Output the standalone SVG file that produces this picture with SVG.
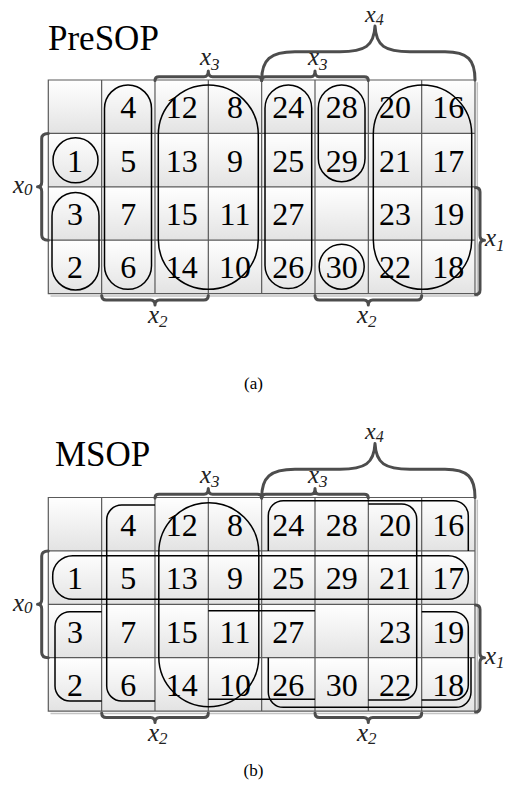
<svg xmlns="http://www.w3.org/2000/svg" width="507" height="798" viewBox="0 0 507 798">
<style>
.grid{fill:none;stroke:#5a5a5a;stroke-width:1.2}
.shadow{fill:none;stroke:#c4c4c4;stroke-width:1.5}
.loop{fill:none;stroke:#000;stroke-width:1.5}
.brace{fill:none;stroke:#4d4d4d;stroke-width:3;stroke-linecap:round;stroke-linejoin:round}
</style>
<defs>
<linearGradient id="cellgrad" x1="0" y1="0" x2="0" y2="1">
<stop offset="0" stop-color="#ffffff"/>
<stop offset="1" stop-color="#e3e3e3"/>
</linearGradient>
<pattern id="cellpat" patternUnits="userSpaceOnUse" x="48.3" y="80" width="53.34" height="53.4">
<rect width="53.34" height="53.4" fill="url(#cellgrad)"/>
</pattern>
</defs>

<!-- ===== (a) PreSOP ===== -->
<g id="map-a">
<text id="a-title" x="48" y="50" font-family="Liberation Serif, serif" font-size="35" fill="#000">PreSOP</text>
<g id="a-grid">
<rect x="48.3" y="80" width="426.7" height="213.6" fill="url(#cellpat)"/>
<path class="shadow" d="M50.5,295.9 H477.3 V82.3"/>
<path class="grid" d="M48.3,80 H475 V293.6 H48.3 Z M101.64,80 V293.6 M154.98,80 V293.6 M208.32,80 V293.6 M261.66,80 V293.6 M315,80 V293.6 M368.34,80 V293.6 M421.68,80 V293.6 M48.3,133.4 H475 M48.3,186.8 H475 M48.3,240.2 H475"/>
</g>
<g id="a-cells" font-family="Liberation Serif, serif" font-size="32" fill="#000" text-anchor="middle">
<text x="128.31" y="118.2">4</text>
<text x="181.65" y="118.2">12</text>
<text x="234.99" y="118.2">8</text>
<text x="288.33" y="118.2">24</text>
<text x="341.67" y="118.2">28</text>
<text x="395.01" y="118.2">20</text>
<text x="448.35" y="118.2">16</text>
<text x="74.97" y="171.6">1</text>
<text x="128.31" y="171.6">5</text>
<text x="181.65" y="171.6">13</text>
<text x="234.99" y="171.6">9</text>
<text x="288.33" y="171.6">25</text>
<text x="341.67" y="171.6">29</text>
<text x="395.01" y="171.6">21</text>
<text x="448.35" y="171.6">17</text>
<text x="74.97" y="225">3</text>
<text x="128.31" y="225">7</text>
<text x="181.65" y="225">15</text>
<text x="234.99" y="225">11</text>
<text x="288.33" y="225">27</text>
<text x="395.01" y="225">23</text>
<text x="448.35" y="225">19</text>
<text x="74.97" y="278.4">2</text>
<text x="128.31" y="278.4">6</text>
<text x="181.65" y="278.4">14</text>
<text x="234.99" y="278.4">10</text>
<text x="288.33" y="278.4">26</text>
<text x="341.67" y="278.4">30</text>
<text x="395.01" y="278.4">22</text>
<text x="448.35" y="278.4">18</text>
</g>
<g id="a-loops">
<circle id="a-l1" class="loop" cx="75.5" cy="160.3" r="22.5"/>
<rect id="a-l2" class="loop" x="52" y="192.5" width="47" height="97.5" rx="23.5"/>
<rect id="a-l3" class="loop" x="104.5" y="85" width="47" height="204.3" rx="23.5"/>
<rect id="a-l4" class="loop" x="158.3" y="85" width="100" height="204.3" rx="50"/>
<rect id="a-l5" class="loop" x="265" y="85" width="46.7" height="203.5" rx="23.3"/>
<rect id="a-l6" class="loop" x="318.3" y="85" width="46.7" height="96.7" rx="23.3"/>
<circle id="a-l7" class="loop" cx="341.7" cy="266.7" r="22.5"/>
<rect id="a-l8" class="loop" x="373.3" y="85" width="98.4" height="204.3" rx="49.2"/>
</g>
<g id="a-braces">
<path class="brace" d="M155,80.5 Q155,76.7 159,76.7 H204 Q208.3,76.7 208.3,71 Q208.3,76.7 212.6,76.7 H257.4 Q261.7,76.7 261.7,80.5"/>
<path class="brace" d="M261.7,80.5 Q261.7,76.7 265.7,76.7 H311 Q315,76.7 315,71 Q315,76.7 319,76.7 H364.3 Q368.3,76.7 368.3,80.5"/>
<path class="brace" d="M261.7,80 C261.7,60 270,51.7 295,51.7 H340 C365,51.7 374,46 375,26 C376,46 385,51.7 410,51.7 H445 C468,51.7 475,60 475,80"/>
<path class="brace" d="M48.3,133.4 Q41.7,133.4 41.7,138.5 V182 Q41.7,186.8 37.5,186.8 Q41.7,186.8 41.7,191.5 V235 Q41.7,240.2 48.3,240.2"/>
<path class="brace" d="M475.5,187.5 Q480,187.5 480,192 V235.5 Q480,240.2 484.5,240.2 Q480,240.2 480,245 V290 Q480,294.5 475.5,294.5"/>
<path class="brace" d="M101.7,295.5 Q101.7,300 106.2,300 H150.5 Q155,300 155,305 Q155,300 159.5,300 H203.8 Q208.3,300 208.3,295.5"/>
<path class="brace" d="M315,295.5 Q315,300 319.5,300 H363.8 Q368.3,300 368.3,305 Q368.3,300 372.8,300 H417.2 Q421.7,300 421.7,295.5"/>
</g>
<g id="a-labels" font-family="Liberation Serif, serif" font-style="italic" font-size="25" fill="#222">
<text x="200" y="65">x<tspan font-size="17" dy="4.5">3</tspan></text>
<text x="308" y="65">x<tspan font-size="17" dy="4.5">3</tspan></text>
<text x="365" y="21.5" font-size="24">x<tspan font-size="16" dy="3">4</tspan></text>
<text x="13" y="192.5">x<tspan font-size="17" dy="2">0</tspan></text>
<text x="485" y="246">x<tspan font-size="17" dy="4.5">1</tspan></text>
<text x="148" y="323">x<tspan font-size="17" dy="3.5">2</tspan></text>
<text x="357" y="323">x<tspan font-size="17" dy="3.5">2</tspan></text>
</g>
<text id="a-caption" x="253.5" y="388.5" font-family="Liberation Serif, serif" font-size="17" text-anchor="middle" fill="#000">(a)</text>
</g>

<!-- ===== (b) MSOP ===== -->
<g id="map-b" transform="translate(0,417.5)">
<text id="b-title" x="55" y="48.2" font-family="Liberation Serif, serif" font-size="35" fill="#000">MSOP</text>
<g id="b-grid">
<rect x="48.3" y="80" width="426.7" height="213.6" fill="url(#cellpat)"/>
<path class="shadow" d="M50.5,295.9 H477.3 V82.3"/>
<path class="grid" d="M48.3,80 H475 V293.6 H48.3 Z M101.64,80 V293.6 M154.98,80 V293.6 M208.32,80 V293.6 M261.66,80 V293.6 M315,80 V293.6 M368.34,80 V293.6 M421.68,80 V293.6 M48.3,133.4 H475 M48.3,186.8 H475 M48.3,240.2 H475"/>
</g>
<g id="b-cells" font-family="Liberation Serif, serif" font-size="32" fill="#000" text-anchor="middle">
<text x="128.31" y="118.2">4</text>
<text x="181.65" y="118.2">12</text>
<text x="234.99" y="118.2">8</text>
<text x="288.33" y="118.2">24</text>
<text x="341.67" y="118.2">28</text>
<text x="395.01" y="118.2">20</text>
<text x="448.35" y="118.2">16</text>
<text x="74.97" y="171.6">1</text>
<text x="128.31" y="171.6">5</text>
<text x="181.65" y="171.6">13</text>
<text x="234.99" y="171.6">9</text>
<text x="288.33" y="171.6">25</text>
<text x="341.67" y="171.6">29</text>
<text x="395.01" y="171.6">21</text>
<text x="448.35" y="171.6">17</text>
<text x="74.97" y="225">3</text>
<text x="128.31" y="225">7</text>
<text x="181.65" y="225">15</text>
<text x="234.99" y="225">11</text>
<text x="288.33" y="225">27</text>
<text x="395.01" y="225">23</text>
<text x="448.35" y="225">19</text>
<text x="74.97" y="278.4">2</text>
<text x="128.31" y="278.4">6</text>
<text x="181.65" y="278.4">14</text>
<text x="234.99" y="278.4">10</text>
<text x="288.33" y="278.4">26</text>
<text x="341.67" y="278.4">30</text>
<text x="395.01" y="278.4">22</text>
<text x="448.35" y="278.4">18</text>
</g>
<g id="b-loops">
<rect id="b-x3x4" class="loop" x="158.8" y="85.2" width="100" height="204" rx="50"/>
<rect id="b-x0x1" class="loop" x="52.7" y="138.2" width="415.6" height="43.6" rx="20"/>
<path id="b-x2x3-a" class="loop" d="M155,87.5 H121.7 A15,15 0 0 0 106.7,102.5 V268.5 A15,15 0 0 0 121.7,283.5 H155"/>
<path id="b-x2x3-b" class="loop" d="M368.3,86.5 H401.7 A15,15 0 0 1 416.7,101.5 V267.5 A15,15 0 0 1 401.7,282.5 H368.3"/>
<path id="b-x1x2-a" class="loop" d="M101.7,194.2 H70 A15,15 0 0 0 55,209.2 V268.5 A15,15 0 0 0 70,283.5 H101.7"/>
<path id="b-x1x2-b" class="loop" d="M208.3,193.2 H315 M208.3,281.8 H315"/>
<path id="b-x1x2-c" class="loop" d="M421.7,194.2 H453.3 A15,15 0 0 1 468.3,209.2 V267.5 A15,15 0 0 1 453.3,282.5 H421.7"/>
<path id="b-x4x0-a" class="loop" d="M268.3,133.4 V98.2 A15,15 0 0 1 283.3,83.2 H453.3 A15,15 0 0 1 468.3,98.2 V133.4"/>
<path id="b-x4x0-b" class="loop" d="M268.3,240.2 V274.8 A15,15 0 0 0 283.3,289.8 H456 A15,15 0 0 0 471,274.8 V240.2"/>
</g>
<g id="b-braces">
<path class="brace" d="M155,80.5 Q155,76.7 159,76.7 H204 Q208.3,76.7 208.3,71 Q208.3,76.7 212.6,76.7 H257.4 Q261.7,76.7 261.7,80.5"/>
<path class="brace" d="M261.7,80.5 Q261.7,76.7 265.7,76.7 H311 Q315,76.7 315,71 Q315,76.7 319,76.7 H364.3 Q368.3,76.7 368.3,80.5"/>
<path class="brace" d="M261.7,80 C261.7,60 270,51.7 295,51.7 H340 C365,51.7 374,46 375,26 C376,46 385,51.7 410,51.7 H445 C468,51.7 475,60 475,80"/>
<path class="brace" d="M48.3,133.4 Q41.7,133.4 41.7,138.5 V182 Q41.7,186.8 37.5,186.8 Q41.7,186.8 41.7,191.5 V235 Q41.7,240.2 48.3,240.2"/>
<path class="brace" d="M475.5,187.5 Q480,187.5 480,192 V235.5 Q480,240.2 484.5,240.2 Q480,240.2 480,245 V290 Q480,294.5 475.5,294.5"/>
<path class="brace" d="M101.7,295.5 Q101.7,300 106.2,300 H150.5 Q155,300 155,305 Q155,300 159.5,300 H203.8 Q208.3,300 208.3,295.5"/>
<path class="brace" d="M315,295.5 Q315,300 319.5,300 H363.8 Q368.3,300 368.3,305 Q368.3,300 372.8,300 H417.2 Q421.7,300 421.7,295.5"/>
</g>
<g id="b-labels" font-family="Liberation Serif, serif" font-style="italic" font-size="25" fill="#222">
<text x="200" y="65">x<tspan font-size="17" dy="4.5">3</tspan></text>
<text x="308" y="65">x<tspan font-size="17" dy="4.5">3</tspan></text>
<text x="365" y="21.5" font-size="24">x<tspan font-size="16" dy="3">4</tspan></text>
<text x="13" y="193.5">x<tspan font-size="17" dy="2">0</tspan></text>
<text x="485" y="246">x<tspan font-size="17" dy="4.5">1</tspan></text>
<text x="148" y="323">x<tspan font-size="17" dy="3.5">2</tspan></text>
<text x="357" y="323">x<tspan font-size="17" dy="3.5">2</tspan></text>
</g>
<text id="b-caption" x="253.5" y="358" font-family="Liberation Serif, serif" font-size="17" text-anchor="middle" fill="#000">(b)</text>
</g>
</svg>
